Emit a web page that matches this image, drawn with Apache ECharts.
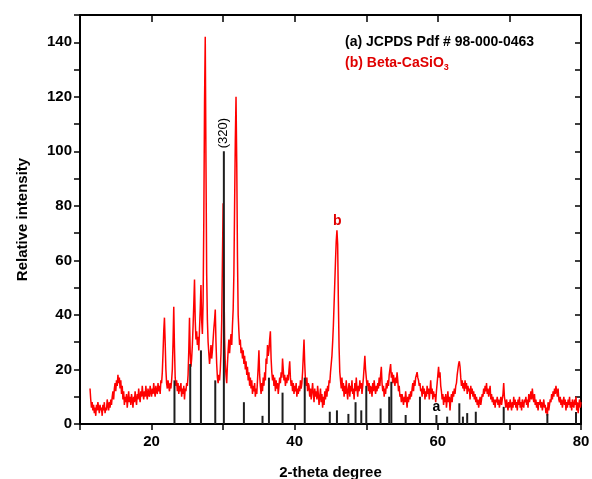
<!DOCTYPE html>
<html>
<head>
<meta charset="utf-8">
<script src="https://cdn.jsdelivr.net/npm/echarts/dist/echarts.min.js"></script>
<style>
  html, body { margin: 0; padding: 0; background: #fff; }
  #xrd { width: 592px; height: 479px; }
</style>
</head>
<body>
<div id="xrd"></div>
<script>
// red trace: Beta-CaSiO3, one value every 0.1 degree starting at 11.4
var thetaStart = 11.4;
var thetaStep = 0.1;
var intensity = [
  13, 9, 6, 8, 5, 7,
  4, 6, 3, 7, 5, 8, 6, 4, 7, 5,
  6, 3, 7, 5, 8, 4, 6, 5, 9, 7,
  5, 8, 6, 9, 7, 10, 12, 9, 13, 15,
  12, 16, 14, 18, 15, 17, 13, 16, 11, 14,
  9, 12, 7, 10, 8, 11, 6, 9, 12, 8,
  10, 7, 11, 9, 6, 10, 8, 12, 9, 7,
  11, 9, 13, 10, 8, 12, 10, 14, 11, 9,
  12, 10, 14, 11, 9, 13, 11, 10, 14, 12,
  10, 13, 11, 15, 12, 10, 14, 12, 11, 15,
  12, 14, 11, 16, 15, 19, 26, 34, 39, 30,
  20, 15, 13, 16, 14, 12, 15, 13, 16, 20,
  30, 43, 28, 17, 14, 16, 12, 15, 11, 14,
  12, 15, 10, 13, 11, 14, 9, 13, 12, 15,
  14, 18, 27, 39, 26, 21, 24, 29, 36, 44,
  53, 38, 31, 34, 29, 32, 27, 35, 42, 51,
  38, 33, 45, 75, 118, 142, 96, 55, 38, 30,
  26, 22, 25, 29, 24, 27, 31, 35, 38, 42,
  30, 22, 17, 15, 18, 16, 20, 26, 38, 60,
  81, 55, 32, 22, 18, 15, 22, 27, 31, 26,
  30, 33, 29, 36, 42, 55, 80, 104, 120, 96,
  62, 40, 34, 29, 31, 26, 28, 24, 27, 22,
  25, 20, 23, 18, 21, 16, 19, 14, 17, 13,
  16, 11, 14, 12, 15, 10, 13, 11, 16, 21,
  27, 18, 14, 11, 15, 12, 17, 14, 19, 16,
  24, 22, 29, 25, 27, 31, 34, 24, 19, 16,
  18, 14, 17, 12, 16, 13, 15, 11, 14, 17,
  15, 19, 17, 24, 20, 16, 18, 14, 17, 15,
  18, 16, 20, 23, 17, 14, 16, 12, 15, 11,
  14, 12, 15, 10, 13, 11, 14, 12, 16, 13,
  15, 19, 25, 31, 22, 16, 14, 17, 12, 15,
  14, 10, 13, 9, 12, 15, 11, 8, 13, 10,
  12, 9, 14, 11, 7, 10, 13, 8, 11, 6,
  10, 7, 12, 9, 13, 10, 14, 12, 16, 15,
  19, 22, 25, 30, 36, 44, 52, 60, 67, 71,
  66, 45, 28, 19, 16, 13, 17, 12, 15, 10,
  14, 11, 16, 12, 9, 13, 15, 10, 14, 12,
  16, 11, 13, 9, 15, 12, 17, 13, 10, 14,
  12, 16, 13, 15, 11, 14, 17, 21, 25, 20,
  17, 14, 16, 12, 15, 11, 14, 13, 10, 15,
  12, 16, 13, 11, 14, 12, 15, 13, 17, 14,
  18, 21, 15, 12, 14, 10, 13, 11, 15, 13,
  16, 14, 18, 20, 22, 17, 19, 15, 18, 16,
  14, 17, 15, 19, 16, 12, 14, 10, 11, 8,
  11, 9, 7, 10, 8, 12, 9, 6, 10, 8,
  11, 9, 12, 10, 13, 15, 12, 16, 14, 17,
  18, 19, 17, 16, 14, 15, 12, 13, 10, 14,
  11, 13, 9, 12, 10, 14, 11, 13, 9, 12,
  16, 11, 13, 9, 12, 10, 11, 8, 12, 15,
  18, 21, 17, 19, 14, 12, 9, 11, 7, 10,
  8, 11, 6, 9, 12, 8, 10, 5, 9, 11,
  8, 12, 10, 13, 11, 14, 15, 18, 20, 22,
  23, 21, 17, 14, 16, 13, 15, 12, 16, 13,
  15, 11, 14, 12, 13, 9, 14, 11, 13, 10,
  12, 9, 11, 8, 10, 7, 9, 6, 8, 10,
  7, 9, 11, 10, 13, 11, 14, 12, 15, 11,
  13, 10, 12, 14, 9, 11, 8, 10, 7, 9,
  6, 9, 8, 10, 7, 9, 6, 8, 10, 7,
  9, 11, 15, 10, 8, 6, 9, 7, 5, 8,
  6, 9, 7, 5, 8, 6, 10, 7, 9, 6,
  8, 5, 9, 7, 10, 6, 8, 5, 9, 7,
  6, 9, 8, 10, 7, 9, 6, 11, 8, 10,
  12, 9, 13, 10, 8, 11, 7, 9, 6, 8,
  5, 8, 7, 9, 6, 8, 5, 7, 9, 6,
  7, 4, 6, 3, 8, 5, 7, 9, 8, 11,
  9, 12, 10, 13, 11, 14, 12, 10, 13, 9,
  8, 10, 7, 9, 6, 8, 10, 7, 9, 5,
  8, 6, 9, 7, 10, 6, 8, 5, 9, 7,
  6, 9, 7, 10, 5, 8, 4, 7, 9, 6,
  8
];

// black sticks: JCPDS reference lines
var stickPos = [23.2, 25.4, 26.9, 28.9, 30.1, 32.9, 35.5, 36.4, 38.3, 41.4,
  44.9, 45.9, 47.5, 48.5, 49.3, 50.0, 52.0, 53.2, 53.5, 55.5,
  57.5, 59.8, 61.3, 63.0, 63.5, 64.1, 65.3, 69.2, 75.3, 79.3];
var stickHeight = [16, 22, 27, 16, 100, 8, 3, 17, 11.5, 17,
  4.5, 5, 3.7, 8, 5, 14, 5.7, 10, 15.5, 3.3,
  10, 3.3, 2.7, 7.6, 2.7, 4, 4.5, 6.3, 3.7, 4.4];

var xTicks = [20, 40, 60, 80];
var yTicks = [0, 20, 40, 60, 80, 100, 120, 140];

var font = "'Liberation Sans', Arial, sans-serif";
var redColor = '#ff0000';

var redData = intensity.map(function (v, i) {
  return [Math.round((thetaStart + i * thetaStep) * 10) / 10, v];
});

var stickData = stickPos.map(function (x, i) {
  var item = { value: [x, stickHeight[i]] };
  if (x === 30.1) {
    item.label = {
      show: true, position: 'top', rotate: 90, distance: 3,
      align: 'left', verticalAlign: 'middle',
      formatter: '(320)', color: '#000', fontSize: 13, fontFamily: font
    };
  }
  if (x === 59.8) {
    item.label = {
      show: true, position: 'top', distance: 1,
      formatter: 'a', color: '#000', fontSize: 14, fontWeight: 'bold', fontFamily: font
    };
  }
  return item;
});

var axisLineStyle = { color: '#000', width: 2 };
var tickStyle = { color: '#000', width: 1.5 };
var labelStyle = { color: '#000', fontSize: 15, fontWeight: 'bold', fontFamily: font };

var option = {
  animation: false,
  backgroundColor: '#fff',
  grid: { left: 80, right: 11, top: 15, bottom: 55, outerBoundsMode: 'none' },
  xAxis: [
    {
      type: 'value', min: 10, max: 80, interval: 10,
      axisLine: { show: true, onZero: false, lineStyle: axisLineStyle },
      axisTick: { show: true, length: 6, lineStyle: tickStyle },
      axisLabel: Object.assign({
        margin: 10,
        formatter: function (v) { return xTicks.indexOf(v) >= 0 ? String(v) : ''; }
      }, labelStyle),
      splitLine: { show: false },
      name: '2-theta degree', nameLocation: 'middle', nameGap: 41,
      nameTextStyle: { color: '#000', fontSize: 15, fontWeight: 'bold', fontFamily: font }
    },
    {
      type: 'value', min: 10, max: 80, interval: 10, position: 'top',
      axisLine: { show: true, onZero: false, lineStyle: axisLineStyle },
      axisTick: { show: true, inside: true, length: 7, lineStyle: tickStyle },
      axisLabel: { show: false },
      splitLine: { show: false }
    }
  ],
  yAxis: [
    {
      type: 'value', min: 0, max: 150, interval: 10,
      axisLine: { show: true, onZero: false, lineStyle: axisLineStyle },
      axisTick: { show: true, length: 6, lineStyle: tickStyle },
      axisLabel: Object.assign({
        margin: 8,
        formatter: function (v) { return yTicks.indexOf(v) >= 0 ? String(v) : ''; }
      }, labelStyle),
      splitLine: { show: false },
      name: 'Relative intensity', nameLocation: 'middle', nameGap: 50, nameRotate: 90,
      nameTextStyle: { color: '#000', fontSize: 15, fontWeight: 'bold', fontFamily: font }
    },
    {
      type: 'value', min: 0, max: 150, interval: 10, position: 'right',
      axisLine: { show: true, onZero: false, lineStyle: axisLineStyle },
      axisTick: { show: true, inside: true, length: 6, lineStyle: tickStyle },
      axisLabel: { show: false },
      splitLine: { show: false }
    }
  ],
  series: [
    {
      name: 'Beta-CaSiO3',
      type: 'line',
      data: redData,
      showSymbol: false,
      lineStyle: { color: redColor, width: 1.5 },
      z: 2,
      markPoint: {
        symbol: 'circle', symbolSize: 1,
        itemStyle: { color: 'rgba(0,0,0,0)' },
        label: {
          show: true, position: 'top', distance: 2, formatter: 'b',
          color: '#e00000', fontSize: 14, fontWeight: 'bold', fontFamily: font
        },
        data: [{ coord: [45.95, 71] }]
      }
    },
    {
      name: 'JCPDS',
      type: 'bar',
      data: stickData,
      barWidth: 2,
      itemStyle: { color: '#1e1e1e' },
      z: 3
    }
  ],
  graphic: [
    {
      type: 'text', left: 345, top: 35,
      style: { text: '(a) JCPDS Pdf # 98-000-0463', fill: '#000', font: 'bold 14px ' + font }
    },
    {
      type: 'text', left: 345, top: 56,
      style: {
        text: '{m|(b) Beta-CaSiO}{s|3}',
        rich: {
          m: { fill: '#e00000', fontSize: 14, fontWeight: 'bold', fontFamily: font },
          s: { fill: '#e00000', fontSize: 9, fontWeight: 'bold', fontFamily: font,
               padding: [9, 0, 0, 0], verticalAlign: 'bottom' }
        }
      }
    }
  ]
};

var chart = echarts.init(document.getElementById('xrd'));
chart.setOption(option);
</script>
</body>
</html>
